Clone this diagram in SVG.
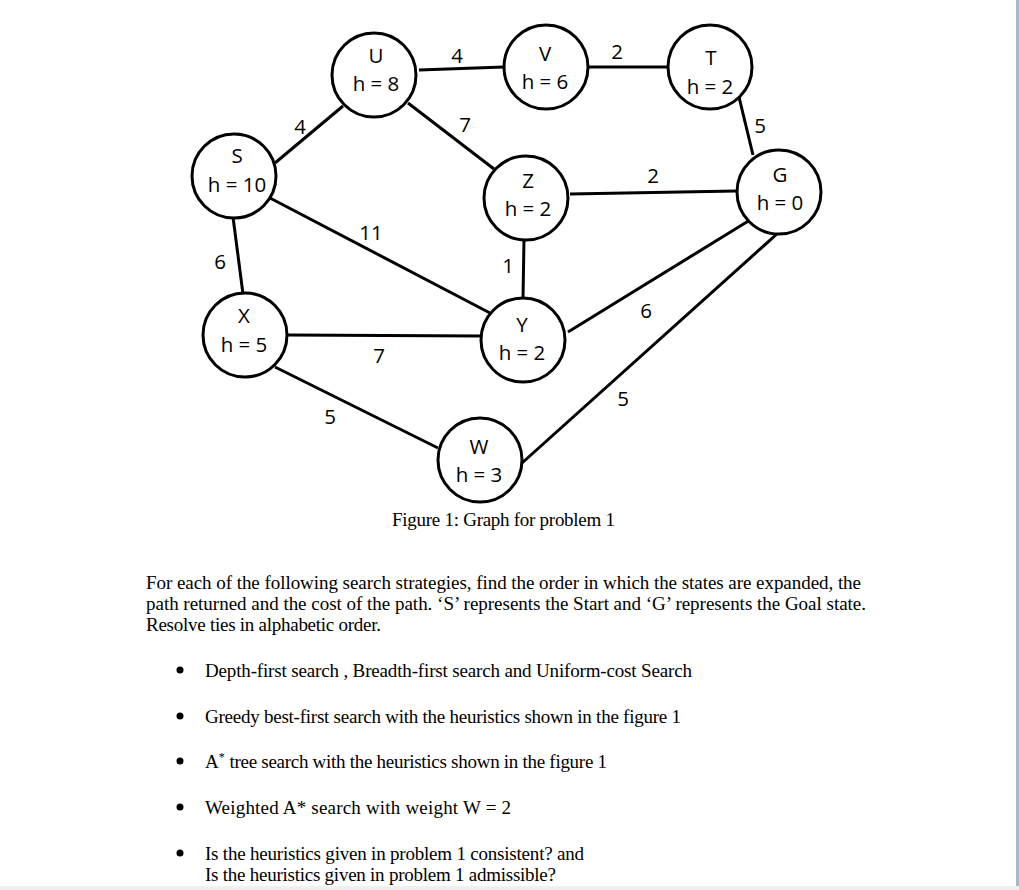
<svg xmlns="http://www.w3.org/2000/svg" width="1019" height="890" viewBox="0 0 1019 890">
<style>
.n circle{fill:#fff;stroke:#000;stroke-width:3}
.n text,.el{font-family:"Open Sans","Liberation Sans",sans-serif;font-size:20.5px;fill:#000;text-anchor:middle}
.e line{stroke:#000;stroke-width:3}
.t{font-family:"Liberation Serif","Times New Roman",serif;font-size:19px;fill:#000}
</style>
<rect width="1019" height="890" fill="#fff"/>
<rect x="1016" y="0" width="3" height="886" fill="#a9b6cc"/>
<rect x="0" y="886" width="1019" height="4" fill="#f0f0f0"/>
<g id="connectors" class="e">
<line x1="419" y1="70" x2="504" y2="67"/>
<line x1="588" y1="67" x2="668" y2="67"/>
<line x1="275" y1="163" x2="343" y2="106"/>
<line x1="408" y1="103" x2="494" y2="169"/>
<line x1="739" y1="97" x2="753" y2="155"/>
<line x1="570" y1="194" x2="736" y2="191"/>
<line x1="270" y1="198" x2="490" y2="313"/>
<line x1="233" y1="217" x2="243" y2="294"/>
<line x1="524" y1="239" x2="523" y2="299"/>
<line x1="288" y1="335" x2="481" y2="336"/>
<line x1="275" y1="367" x2="438" y2="448"/>
<line x1="568" y1="332" x2="750" y2="220"/>
<line x1="522" y1="463" x2="778" y2="233"/>
</g>
<g id="edge-labels">
<text class="el" x="457" y="63">4</text>
<text class="el" x="617" y="59">2</text>
<text class="el" x="300" y="134">4</text>
<text class="el" x="465" y="132">7</text>
<text class="el" x="760" y="133">5</text>
<text class="el" x="653" y="183">2</text>
<text class="el" x="371" y="240">11</text>
<text class="el" x="220" y="269">6</text>
<text class="el" x="508" y="273">1</text>
<text class="el" x="379" y="363">7</text>
<text class="el" x="330" y="424">5</text>
<text class="el" x="646" y="318">6</text>
<text class="el" x="623" y="406">5</text>
</g>
<g id="node-U" class="n"><circle cx="374" cy="75" r="42"/><text x="376" y="63">U</text><text x="376" y="91">h = 8</text></g>
<g id="node-V" class="n"><circle cx="546" cy="67" r="42"/><text x="545" y="61">V</text><text x="545" y="89">h = 6</text></g>
<g id="node-T" class="n"><circle cx="710" cy="67" r="42"/><text x="711" y="65">T</text><text x="710" y="94">h = 2</text></g>
<g id="node-S" class="n"><circle cx="234" cy="176" r="42"/><text x="237" y="163">S</text><text x="237" y="192">h = 10</text></g>
<g id="node-Z" class="n"><circle cx="526" cy="198" r="42"/><text x="528" y="188">Z</text><text x="528" y="216">h = 2</text></g>
<g id="node-G" class="n"><circle cx="779" cy="192" r="42"/><text x="780" y="182">G</text><text x="780" y="210">h = 0</text></g>
<g id="node-X" class="n"><circle cx="245" cy="335" r="42"/><text x="244" y="323">X</text><text x="244" y="352">h = 5</text></g>
<g id="node-Y" class="n"><circle cx="523" cy="340" r="42"/><text x="522" y="332">Y</text><text x="522" y="360">h = 2</text></g>
<g id="node-W" class="n"><circle cx="480" cy="460" r="42"/><text x="479" y="454">W</text><text x="479" y="482">h = 3</text></g>
<text class="t" x="392" y="526" textLength="223">Figure 1: Graph for problem 1</text>
<g id="question">
<text class="t" x="146" y="589" textLength="715">For each of the following search strategies, find the order in which the states are expanded, the</text>
<text class="t" x="146" y="610" textLength="720">path returned and the cost of the path. ‘S’ represents the Start and ‘G’ represents the Goal state.</text>
<text class="t" x="146" y="631" textLength="235">Resolve ties in alphabetic order.</text>
<g fill="#000">
<circle cx="180" cy="670" r="3.5"/>
<circle cx="180" cy="716" r="3.5"/>
<circle cx="180" cy="761" r="3.5"/>
<circle cx="180" cy="807" r="3.5"/>
<circle cx="180" cy="853" r="3.5"/>
</g>
<text class="t" x="205" y="677" textLength="487">Depth-first search , Breadth-first search and Uniform-cost Search</text>
<text class="t" x="205" y="723" textLength="476">Greedy best-first search with the heuristics shown in the figure 1</text>
<text class="t" x="205" y="768">A<tspan dy="-7" font-size="12">*</tspan><tspan dy="7" x="225" textLength="382"> tree search with the heuristics shown in the figure 1</tspan></text>
<text class="t" x="205" y="814" textLength="306">Weighted A* search with weight W = 2</text>
<text class="t" x="205" y="860" textLength="379">Is the heuristics given in problem 1 consistent? and</text>
<text class="t" x="205" y="881" textLength="351">Is the heuristics given in problem 1 admissible?</text>
</g>
</svg>
